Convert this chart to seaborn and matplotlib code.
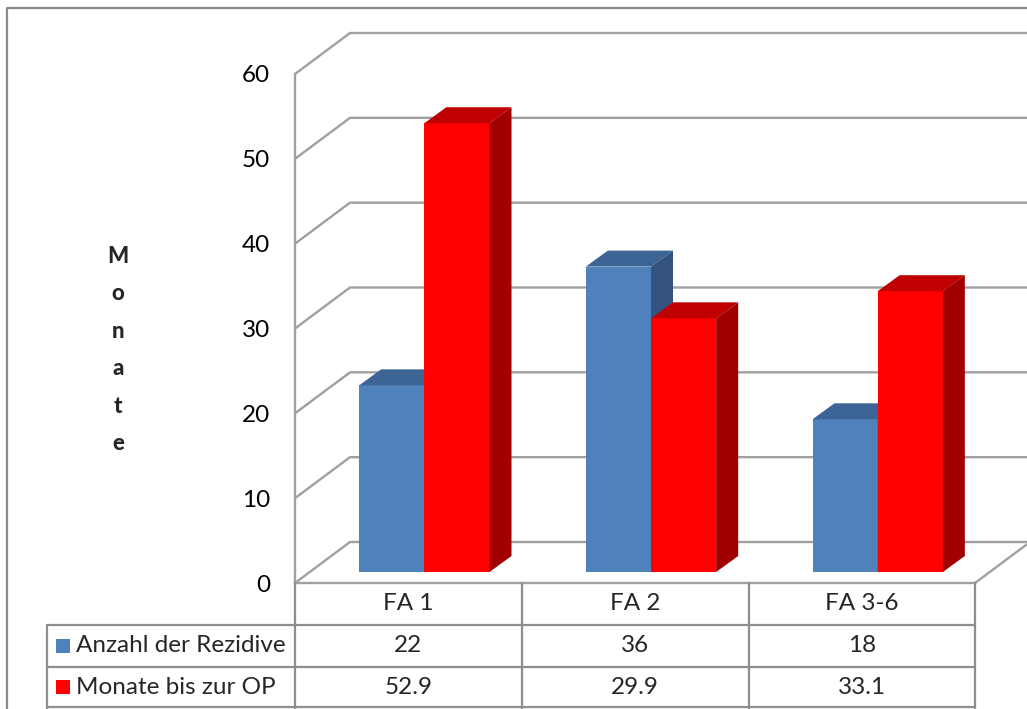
import numpy as np
import pandas as pd
import matplotlib
matplotlib.use("Agg")
import matplotlib.pyplot as plt
import matplotlib.transforms as mtransforms
from matplotlib.patches import Polygon
from matplotlib.lines import Line2D
import seaborn as sns

# ---- data ----
categories = ["FA 1", "FA 2", "FA 3-6"]
series_names = ["Anzahl der Rezidive", "Monate bis zur OP"]
rezidive = [22, 36, 18]
monate_op = [52.9, 29.9, 33.1]
value_labels = [["22", "36", "18"], ["52.9", "29.9", "33.1"]]
y_ticks = [0, 10, 20, 30, 40, 50, 60]
y_label = "Monate"

# ---- style ----
sns.set_theme(style="white")
plt.rcParams["font.family"] = ["Lato", "DejaVu Sans"]

front_cols = ["#4F81BD", "#FF0000"]
top_cols = ["#3C6494", "#C00000"]
side_cols = ["#34547F", "#A00000"]
grid_col = "#A0A0A0"
table_col = "#8E8E8E"
text_size = 17.5

W, H = 1027, 709
fig = plt.figure(figsize=(W / 100, H / 100), dpi=100)


def fx(px):
    return px / W


def fy(py):
    return 1 - py / H


ax_left, ax_right, ax_bottom, ax_top = 295, 975, 583, 74
ax = fig.add_axes([fx(ax_left), fy(ax_bottom), (ax_right - ax_left) / W,
                   (ax_bottom - ax_top) / H])

df = pd.DataFrame({
    "Kategorie": categories * 2,
    "Reihe": [series_names[0]] * 3 + [series_names[1]] * 3,
    "Wert": rezidive + monate_op,
})

sns.barplot(data=df, x="Kategorie", y="Wert", hue="Reihe", palette=front_cols,
            width=0.575, saturation=1, legend=False, ax=ax, errorbar=None,
            linewidth=0)

ax.set_xlim(-0.5, 2.5)
ax.set_ylim(0, 60)

# pixel -> data unit conversions for the oblique projection
ux = 3.0 / (ax_right - ax_left)
uy = 60.0 / (ax_bottom - ax_top)
wall_dx, wall_dy = 55 * ux, 41 * uy
bar_dx, bar_dy = 16 * ux, 11 * uy
depth_dx, depth_dy = 22 * ux, 16 * uy

# back wall, side wall and floor lines
for v in y_ticks:
    ax.add_line(Line2D([-0.5, -0.5 + wall_dx, 2.5 + 80 * ux],
                       [v, v + wall_dy, v + wall_dy],
                       color=grid_col, lw=1.7, zorder=0.5, clip_on=False,
                       solid_capstyle="butt"))
ax.add_line(Line2D([2.5, 2.5 + wall_dx], [0, wall_dy], color=grid_col, lw=1.7,
                   zorder=0.5, clip_on=False))

# extrude each bar into a box: shifted front face plus top and side faces
n_cat = len(categories)
for i, patch in enumerate(ax.patches):
    s = i // n_cat
    x0 = patch.get_x() + bar_dx
    w = patch.get_width()
    h = patch.get_height()
    y0 = bar_dy
    patch.set_x(x0)
    patch.set_y(y0)
    patch.set_zorder(2 + s)
    patch.set_clip_on(False)
    x1 = x0 + w
    y1 = y0 + h
    top = Polygon([(x0, y1), (x1, y1), (x1 + depth_dx, y1 + depth_dy),
                   (x0 + depth_dx, y1 + depth_dy)], closed=True,
                  facecolor=top_cols[s], edgecolor="none", zorder=2 + s,
                  clip_on=False)
    side = Polygon([(x1, y0), (x1 + depth_dx, y0 + depth_dy),
                    (x1 + depth_dx, y1 + depth_dy), (x1, y1)], closed=True,
                   facecolor=side_cols[s], edgecolor="none", zorder=2 + s,
                   clip_on=False)
    ax.add_patch(top)
    ax.add_patch(side)

# axes decorations
for sp in ["top", "right"]:
    ax.spines[sp].set_visible(False)
for sp in ["left", "bottom"]:
    ax.spines[sp].set_color(grid_col)
    ax.spines[sp].set_linewidth(1.7)
ax.set_yticks(y_ticks)
ax.set_yticklabels([str(t) for t in y_ticks])
ax.tick_params(axis="y", length=0, pad=18, labelsize=text_size,
               labelcolor="black")
ax.set_xticks([])
ax.set_xlabel("")
ax.set_ylabel("")
ax.patch.set_alpha(0)

fig.text(fx(118), fy(350), "\n".join(y_label), ha="center", va="center",
         fontsize=16, fontweight="black", linespacing=1.97)

# ---- data table below the plot ----
row_y = [583, 625, 667, 707]
col_x = [47, 295, 522, 749, 975]


def hline(y, x0, x1):
    fig.add_artist(Line2D([fx(x0), fx(x1)], [fy(y), fy(y)], color=table_col,
                          lw=1.6, transform=fig.transFigure))


def vline(x, y0, y1):
    fig.add_artist(Line2D([fx(x), fx(x)], [fy(y0), fy(y1)], color=table_col,
                          lw=1.6, transform=fig.transFigure))


for y in row_y[1:]:
    hline(y, col_x[0], col_x[-1])
vline(col_x[0], row_y[1], 709)
for x in col_x[1:]:
    vline(x, row_y[0], 709)

blend = mtransforms.blended_transform_factory(ax.transData, fig.transFigure)
for j, cat in enumerate(categories):
    ax.text(j, fy((row_y[0] + row_y[1]) / 2), cat, transform=blend,
            ha="center", va="center", fontsize=text_size, clip_on=False)
    for r in range(2):
        ax.text(j, fy((row_y[r + 1] + row_y[r + 2]) / 2), value_labels[r][j],
                transform=blend, ha="center", va="center", fontsize=text_size,
                clip_on=False)

for r, name in enumerate(series_names):
    yc = (row_y[r + 1] + row_y[r + 2]) / 2
    fig.add_artist(plt.Rectangle((fx(56), fy(yc + 7)), 14 / W, 14 / H,
                                 facecolor=front_cols[r], edgecolor="none",
                                 transform=fig.transFigure))
    fig.text(fx(76), fy(yc), name, ha="left", va="center", fontsize=text_size)

# outer chart frame
fig.add_artist(Line2D([fx(7), fx(7), fx(W + 5)], [fy(H + 5), fy(8), fy(8)],
                      color="#8A8A8A", lw=1.6, transform=fig.transFigure))

fig.savefig("out.png", dpi=100)
